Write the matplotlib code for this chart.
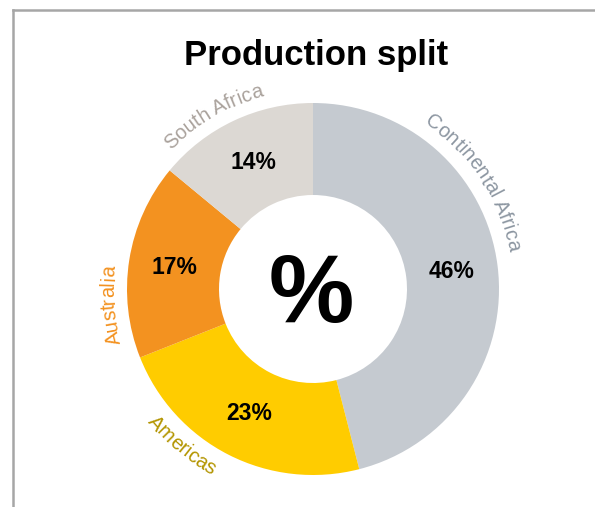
import numpy as np
import matplotlib.pyplot as plt
from matplotlib.lines import Line2D
from matplotlib.textpath import TextToPath
from matplotlib.font_manager import FontProperties

plt.rcParams['font.family'] = ['Liberation Sans', 'DejaVu Sans']

# data
regions = ['Continental Africa', 'Americas', 'Australia', 'South Africa']
shares = [46, 23, 17, 14]

# styling
slice_colors = ['#c5cad0', '#ffcc00', '#f39220', '#dcd8d3']
name_colors = ['#8c96a1', '#b39500', '#f39220', '#aaa29c']
name_angle = [56.5, 220.0, 265.5, 330.0]      # clockwise from 12 o'clock
name_inward = [False, True, False, False]

W, H, DPI = 595, 507, 100
CX, CY = 313, H - 289
R_OUT, R_IN = 186, 94

ttp = TextToPath()


def arc_text(ax, s, mid, r, size, color, inward=False):
    """Place a string letter by letter along a circle around (CX, CY)."""
    fp = FontProperties(family='Liberation Sans', size=size)
    px = DPI / 72

    def w(t):
        return ttp.get_text_width_height_descent(t, fp, ismath=False)[0] * px

    total = w(s)
    for i, ch in enumerate(s):
        if ch == ' ':
            continue
        pos = w(s[:i + 1]) - w(ch) / 2 - total / 2
        if inward:
            a = mid - np.degrees(pos / r)
            rot = 180 - a
        else:
            a = mid + np.degrees(pos / r)
            rot = -a
        x = CX + r * np.sin(np.radians(a))
        y = CY + r * np.cos(np.radians(a))
        ax.text(x, y, ch, fontproperties=fp, color=color, rotation=rot,
                rotation_mode='anchor', ha='center', va='baseline')


fig = plt.figure(figsize=(W / DPI, H / DPI), dpi=DPI)
ax = fig.add_axes([0, 0, 1, 1])

ax.pie(shares, colors=slice_colors, startangle=90, counterclock=False,
       radius=R_OUT, center=(CX, CY),
       wedgeprops=dict(width=R_OUT - R_IN, linewidth=0))
ax.set_xlim(0, W)
ax.set_ylim(0, H)
ax.set_aspect('equal')
ax.axis('off')

# percentage labels in the middle of each slice
cum = np.cumsum([0] + shares)
mids = (cum[:-1] + cum[1:]) / 2 / cum[-1] * 360
for v, a in zip(shares, mids):
    r = 140
    ax.text(CX + r * np.sin(np.radians(a)), CY + r * np.cos(np.radians(a)),
            f'{v}%', ha='center', va='center', fontsize=16.5,
            fontweight='bold', color='black')

# curved region names outside the ring
for name, col, a, inw in zip(regions, name_colors, name_angle, name_inward):
    arc_text(ax, name, a, 212 if inw else 199, 14.5, col, inward=inw)

ax.text(CX - 2, CY - 8, '%', ha='center', va='center', fontsize=69,
        fontweight='bold', color='black')
ax.text(316, H - 55, 'Production split', ha='center', va='center',
        fontsize=25, fontweight='bold', color='black')

# partial frame
fig.add_artist(Line2D([13 / W, 13 / W], [0, 1 - 10 / H], color='#a6a6a6', lw=1.8))
fig.add_artist(Line2D([13 / W, 1], [1 - 10 / H, 1 - 10 / H], color='#a6a6a6', lw=1.8))

fig.savefig('out.png', dpi=DPI)
